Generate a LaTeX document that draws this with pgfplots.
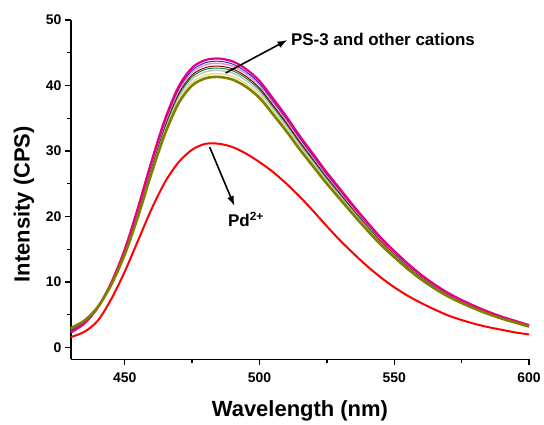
\documentclass[border=0pt]{standalone}
\usepackage{fontspec}
\setmainfont{Liberation Sans}
\usepackage{pgfplots}
\usepackage{pgfplotstable}
\pgfplotsset{compat=1.18}
\usetikzlibrary{arrows.meta}

\definecolor{cmag}{RGB}{230,0,126}
\definecolor{cblue}{RGB}{40,40,230}
\definecolor{cpink}{RGB}{235,140,190}
\definecolor{cdred}{RGB}{130,0,20}
\definecolor{cgreen}{RGB}{0,140,40}
\definecolor{cgray}{RGB}{195,195,195}
\definecolor{ckhaki}{RGB}{225,225,150}
\definecolor{colive}{RGB}{128,128,0}
\definecolor{cred}{RGB}{255,0,0}

\pgfplotstableread{
x olive khaki gray green darkred pink blue magenta red
430 3.00 2.84 2.67 2.85 2.62 2.45 2.47 2.30 1.6
435 4.10 3.99 3.88 4.04 3.87 3.75 3.78 3.67 2.4
440 6.20 6.16 6.11 6.26 6.16 6.10 6.15 6.10 4.1
445 9.60 9.64 9.68 9.83 9.80 9.82 9.90 9.92 7.4
450 14.20 14.33 14.46 14.62 14.67 14.78 14.89 14.99 11.6
455 20.10 20.34 20.59 20.77 20.91 21.12 21.28 21.48 16.4
460 26.70 27.02 27.35 27.59 27.78 28.05 28.27 28.54 21.2
465 32.70 33.10 33.49 33.79 34.02 34.35 34.61 34.94 25.3
470 37.30 37.75 38.20 38.54 38.80 39.18 39.48 39.85 28.3
475 40.00 40.48 40.96 41.32 41.60 42.00 42.32 42.72 30.2
480 41.10 41.59 42.09 42.46 42.74 43.16 43.48 43.89 31.1
485 41.30 41.80 42.29 42.66 42.95 43.37 43.70 44.11 31.1
490 40.90 41.39 41.88 42.25 42.54 42.95 43.27 43.68 30.6
495 39.80 40.28 40.76 41.11 41.39 41.79 42.11 42.51 29.6
500 38.10 38.56 39.01 39.36 39.62 40.01 40.31 40.69 28.3
505 35.60 36.03 36.45 36.77 37.02 37.38 37.66 38.02 26.8
510 33.00 33.40 33.79 34.09 34.32 34.65 34.91 35.24 25.0
515 30.20 30.56 30.92 31.20 31.41 31.71 31.95 32.25 23.0
520 27.60 27.93 28.26 28.51 28.70 28.98 29.20 29.48 20.8
525 25.00 25.30 25.60 25.83 26.00 26.25 26.45 26.70 18.5
530 22.60 22.87 23.14 23.35 23.50 23.73 23.91 24.14 16.3
535 20.20 20.44 20.68 20.87 21.01 21.21 21.37 21.57 14.3
540 17.90 18.11 18.33 18.49 18.62 18.80 18.94 19.12 12.4
545 15.70 15.89 16.08 16.22 16.33 16.49 16.61 16.77 10.7
550 13.80 13.97 14.13 14.26 14.35 14.49 14.60 14.74 9.2
555 12.00 12.14 12.29 12.40 12.48 12.60 12.70 12.82 7.9
560 10.40 10.52 10.65 10.74 10.82 10.92 11.00 11.11 6.8
565 9.00 9.11 9.22 9.30 9.36 9.45 9.52 9.61 5.8
570 7.80 7.89 7.99 8.06 8.11 8.19 8.25 8.33 4.9
575 6.80 6.88 6.96 7.02 7.07 7.14 7.19 7.26 4.2
580 5.90 5.97 6.04 6.09 6.14 6.20 6.24 6.30 3.6
585 5.10 5.16 5.22 5.27 5.30 5.36 5.40 5.45 3.1
590 4.40 4.45 4.51 4.55 4.58 4.62 4.66 4.70 2.7
595 3.80 3.85 3.89 3.93 3.95 3.99 4.02 4.06 2.3
600 3.20 3.24 3.28 3.31 3.33 3.36 3.39 3.42 2.0
}\spectra

\begin{document}
\begin{tikzpicture}
\begin{axis}[
  scale only axis, width=459pt, height=340pt,
  xmin=430, xmax=600, ymin=-1.8, ymax=50,
  axis x line*=bottom, axis y line*=left,
  axis line style={-, line width=1.5pt, black},
  xtick={450,500,550,600}, ytick={0,10,...,50},
  minor x tick num=1, minor y tick num=1,
  tick align=outside,
  major tick length=6pt, minor tick length=4pt,
  tick style={line width=1.3pt, black},
  tick label style={font=\bfseries\fontsize{14}{14}\selectfont},
  xticklabel style={yshift=-4pt},
  /pgf/number format/assume math mode=true,
  xlabel={Wavelength (nm)}, ylabel={Intensity (CPS)},
  label style={font=\bfseries\fontsize{22}{22}\selectfont},
  xlabel style={at={(axis description cs:0.5,-0.153)}, anchor=center},
  ylabel style={at={(axis description cs:-0.1024,0.457)}, anchor=center},
  clip=false,
  every axis plot/.append style={smooth, no markers},
]
\addplot[ckhaki, line width=1.4pt] table[x=x,y=khaki] {\spectra};
\addplot[cgray, line width=1.4pt] table[x=x,y=gray] {\spectra};
\addplot[cgreen, line width=1pt] table[x=x,y=green] {\spectra};
\addplot[cdred, line width=1pt] table[x=x,y=darkred] {\spectra};
\addplot[cpink, line width=1.4pt] table[x=x,y=pink] {\spectra};
\addplot[cblue, line width=1pt] table[x=x,y=blue] {\spectra};
\addplot[cmag, line width=2.2pt] table[x=x,y=magenta] {\spectra};
\addplot[colive, line width=2.6pt] table[x=x,y=olive] {\spectra};
\addplot[cred, line width=2pt] table[x=x,y=red] {\spectra};

\draw[-{Latex[length=10pt,width=7pt]}, line width=1.6pt] (axis cs:487.4,41.9) -- (axis cs:510.4,46.95);
\node[anchor=west, font=\bfseries\fontsize{17}{17}\selectfont] at (axis cs:510.4,46.95) {PS-3 and other cations};
\draw[-{Latex[length=10pt,width=7pt]}, line width=1.6pt] (axis cs:481.5,30.6) -- (axis cs:490.7,21.6);
\node[anchor=base, font=\bfseries\fontsize{17}{17}\selectfont] at (axis cs:495,18.5) {Pd\textsuperscript{2+}};
\end{axis}
\path ([shift={(-71pt,-65pt)}]current axis.south west) rectangle ([shift={(14pt,20pt)}]current axis.north east);
\end{tikzpicture}
\end{document}
